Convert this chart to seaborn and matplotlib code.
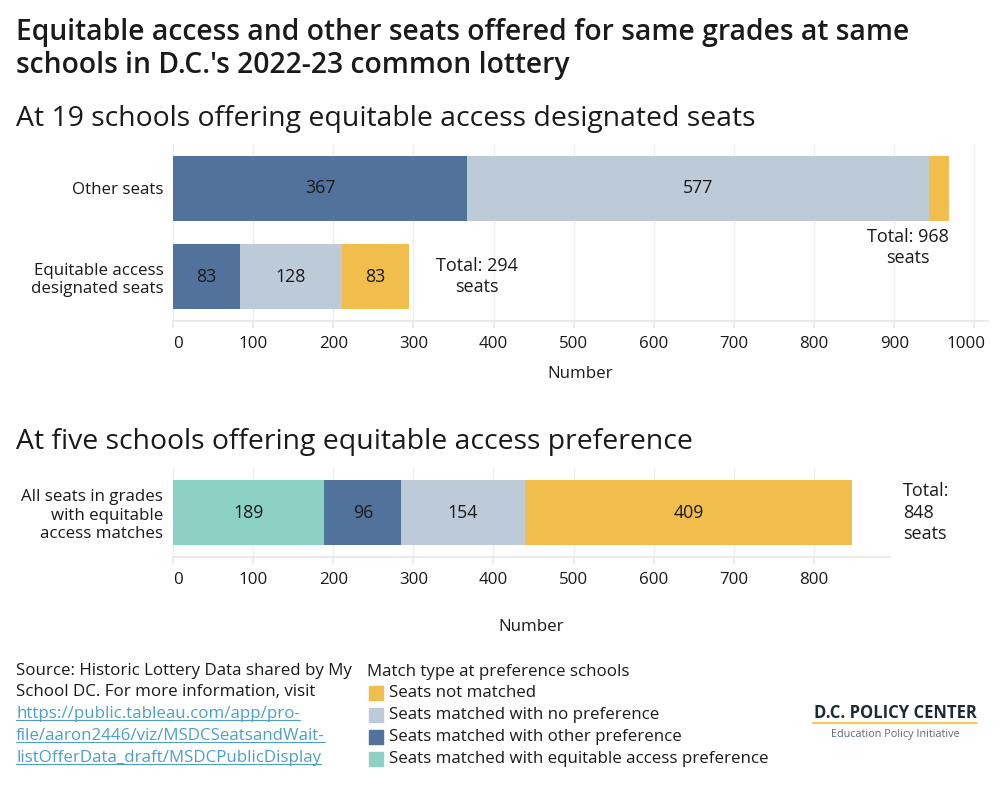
import pandas as pd
import matplotlib.pyplot as plt
import seaborn as sns
from matplotlib.patches import Rectangle
from matplotlib.lines import Line2D
from matplotlib.transforms import ScaledTranslation

# ---- data ----
top_rows = ["Other seats", "Equitable access\ndesignated seats"]
top_other_pref = [367, 83]
top_no_pref = [577, 128]
top_not_matched = [24, 83]

bot_rows = ["All seats in grades\nwith equitable\naccess matches"]
bot_equitable = [189]
bot_other_pref = [96]
bot_no_pref = [154]
bot_not_matched = [409]

legend_labels = ["Seats not matched", "Seats matched with no preference",
                 "Seats matched with other preference",
                 "Seats matched with equitable access preference"]

C_YELLOW = "#F1BD4C"
C_LIGHT = "#BDCAD7"
C_DARK = "#51729A"
C_TEAL = "#8DD1C5"
C_TEXT = "#1A1A1A"
FS = 12.2

sns.set_theme(style="white")
plt.rcParams["font.family"] = ["Open Sans", "DejaVu Sans"]
plt.rcParams["text.color"] = C_TEXT
plt.rcParams["xtick.color"] = C_TEXT
plt.rcParams["ytick.color"] = C_TEXT


def stacked(ax, rows, segments, colors, xmax):
    df = pd.DataFrame({"row": rows})
    cum = [0] * len(rows)
    cols = []
    for i, seg in enumerate(segments):
        cum = [c + v for c, v in zip(cum, seg)]
        df[f"c{i}"] = cum
        cols.append(f"c{i}")
    # draw outermost first, inner layers on top
    for col, color in reversed(list(zip(cols, colors))):
        sns.barplot(data=df, x=col, y="row", color=color, width=0.73,
                    saturation=1, ax=ax, orient="h", linewidth=0)
    # segment labels
    for r in range(len(rows)):
        left = 0
        for seg in segments:
            v = seg[r]
            if v >= 50:
                ax.text(left + v / 2, r, f"{v}", ha="center", va="center",
                        fontsize=12.8, color=C_TEXT)
            left += v
    ax.set_xlim(0, xmax)
    ax.set_ylim(len(rows) - 0.5, -0.5)
    ax.set_xlabel("")
    ax.set_ylabel("")
    ax.grid(axis="x", color="#EEEEEE", linewidth=1)
    ax.set_axisbelow(True)
    for s in ["top", "right", "left"]:
        ax.spines[s].set_visible(False)
    ax.spines["bottom"].set_color("#E8E8E8")
    ax.tick_params(axis="y", length=0, labelsize=FS, pad=7)
    ax.tick_params(axis="x", bottom=True, length=5, color="#E8E8E8",
                   labelsize=FS, pad=6)
    return df


fig = plt.figure(figsize=(10, 8), dpi=100)

# ---- top panel ----
ax1 = fig.add_axes([0.173, 1 - 321 / 800, 0.815, 177 / 800])
stacked(ax1, top_rows, [top_other_pref, top_no_pref, top_not_matched],
        [C_DARK, C_LIGHT, C_YELLOW], 1017)
ax1.set_xticks(range(0, 1001, 100))
lab1 = ax1.get_xticklabels()
lab1[0].set_horizontalalignment("left")
lab1[-1].set_transform(lab1[-1].get_transform()
                       + ScaledTranslation(-0.08, 0, fig.dpi_scale_trans))
tot_top = [a + b + c for a, b, c in zip(top_other_pref, top_no_pref, top_not_matched)]
ax1.text(tot_top[0], 0.45, f"Total: {tot_top[0]}\nseats", ha="right", va="top",
         multialignment="center", fontsize=13, linespacing=1.2)
ax1.text(tot_top[1] + 34, 1, f"Total: {tot_top[1]}\nseats", ha="left", va="center",
         multialignment="center", fontsize=13, linespacing=1.2)
ax1.text(0.5, -0.30, "Number", transform=ax1.transAxes, ha="center", va="center",
         fontsize=FS)

# ---- bottom panel ----
ax2 = fig.add_axes([0.173, 1 - 557 / 800, 0.717, 89 / 800])
stacked(ax2, bot_rows, [bot_equitable, bot_other_pref, bot_no_pref, bot_not_matched],
        [C_TEAL, C_DARK, C_LIGHT, C_YELLOW], 895)
ax2.set_xticks(range(0, 801, 100))
ax2.get_xticklabels()[0].set_horizontalalignment("left")
tot_bot = bot_equitable[0] + bot_other_pref[0] + bot_no_pref[0] + bot_not_matched[0]
ax2.text(tot_bot + 63, 0, f"Total:\n{tot_bot}\nseats", ha="left", va="center",
         fontsize=13, linespacing=1.25, clip_on=False)
ax2.text(0.5, -0.787, "Number", transform=ax2.transAxes, ha="center", va="center",
         fontsize=FS)

# ---- titles ----
fig.text(0.016, 1 - 49 / 800,
         "Equitable access and other seats offered for same grades at same\n"
         "schools in D.C.'s 2022-23 common lottery",
         ha="left", va="center", fontsize=20.3, fontweight="semibold", linespacing=1.2)
fig.text(0.016, 1 - 119 / 800, "At 19 schools offering equitable access designated seats",
         ha="left", va="center", fontsize=20.4)
fig.text(0.016, 1 - 442 / 800, "At five schools offering equitable access preference",
         ha="left", va="center", fontsize=20.4)

# ---- source ----
fig.text(0.016, 1 - 671 / 800, "Source: Historic Lottery Data shared by My",
         ha="left", va="center", fontsize=FS)
fig.text(0.016, 1 - 692 / 800, "School DC. For more information, visit",
         ha="left", va="center", fontsize=FS)
link_lines = ["https://public.tableau.com/app/pro-",
              "file/aaron2446/viz/MSDCSeatsandWait-",
              "listOfferData_draft/MSDCPublicDisplay"]
link_texts = []
for i, line in enumerate(link_lines):
    t = fig.text(0.016, 1 - (714 + 22 * i) / 800, line, ha="left", va="center",
                 fontsize=FS, color="#4C9FC9")
    link_texts.append(t)

# ---- legend ----
fig.text(0.367, 1 - 672 / 800, "Match type at preference schools",
         ha="left", va="center", fontsize=FS)
for i, (lab, col) in enumerate(zip(legend_labels, [C_YELLOW, C_LIGHT, C_DARK, C_TEAL])):
    yc = 693 + 22 * i
    fig.patches.append(Rectangle((0.369, 1 - (yc + 7) / 800), 0.014, 14 / 800,
                                 transform=fig.transFigure, color=col))
    fig.text(0.389, 1 - yc / 800, lab, ha="left", va="center", fontsize=FS)

# ---- logo ----
fig.text(0.895, 1 - 713 / 800, "D.C. POLICY CENTER", ha="center", va="center",
         fontsize=12, fontweight="bold", color="#1E2A36")
fig.add_artist(Line2D([0.813, 0.977], [1 - 723 / 800, 1 - 723 / 800],
                      transform=fig.transFigure, color="#F6C75A", linewidth=1.5))
fig.text(0.895, 1 - 735 / 800, "Education Policy Initiative", ha="center", va="center",
         fontsize=7.8, color="#5E6B78")

# underline the link lines
fig.canvas.draw()
renderer = fig.canvas.get_renderer()
inv = fig.transFigure.inverted()
for t in link_texts:
    bb = t.get_window_extent(renderer)
    (x0, y0), (x1, y1) = inv.transform([(bb.x0, bb.y0), (bb.x1, bb.y1)])
    fig.add_artist(Line2D([x0, x1], [y0 + 2 / 800, y0 + 2 / 800],
                          transform=fig.transFigure, color="#4C9FC9", linewidth=0.8))

fig.savefig("out.png", dpi=100, facecolor="white")
